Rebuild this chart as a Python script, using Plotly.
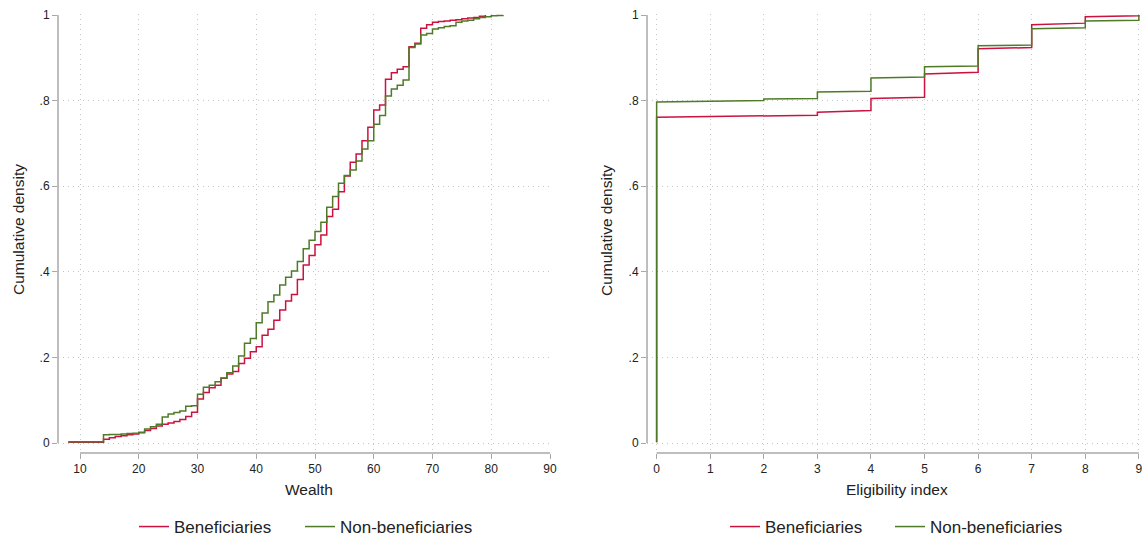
import plotly.graph_objects as go

# ---------------- data ----------------
wealth_benef = [8] + list(range(14, 80))
cdf_benef = [0.002,
             0.009, 0.012, 0.015, 0.017, 0.019, 0.021, 0.024,          # 14-20
             0.029, 0.034, 0.040, 0.044, 0.047, 0.050, 0.055, 0.062, 0.072,  # 21-29
             0.103, 0.118, 0.129, 0.135, 0.151, 0.161, 0.167, 0.186, 0.198, 0.213,  # 30-39
             0.225, 0.252, 0.266, 0.287, 0.311, 0.332, 0.347, 0.382, 0.416, 0.438,  # 40-49
             0.463, 0.486, 0.529, 0.546, 0.587, 0.624, 0.656, 0.675, 0.706, 0.738,  # 50-59
             0.778, 0.790, 0.850, 0.865, 0.873, 0.879, 0.926, 0.934, 0.969, 0.977,  # 60-69
             0.983, 0.985, 0.986, 0.988, 0.989, 0.991, 0.993, 0.994, 0.997, 1.000]  # 70-79

wealth_non = [8] + list(range(14, 83))
cdf_non = [0.003,
           0.019, 0.020, 0.020, 0.021, 0.022, 0.023, 0.025,          # 14-20
           0.033, 0.038, 0.044, 0.061, 0.068, 0.071, 0.075, 0.086, 0.087,  # 21-29
           0.114, 0.130, 0.135, 0.143, 0.152, 0.164, 0.180, 0.203, 0.233, 0.244,  # 30-39
           0.281, 0.304, 0.330, 0.346, 0.369, 0.387, 0.402, 0.424, 0.454, 0.474,  # 40-49
           0.494, 0.516, 0.551, 0.576, 0.607, 0.625, 0.638, 0.659, 0.687, 0.706,  # 50-59
           0.745, 0.765, 0.811, 0.827, 0.836, 0.848, 0.924, 0.932, 0.953, 0.957,  # 60-69
           0.967, 0.970, 0.973, 0.975, 0.983, 0.986, 0.988, 0.991, 0.994, 0.996,  # 70-79
           0.998, 0.999, 1.000]                                       # 80-82

elig_x_benef = [0, 0, 3, 3, 4, 4, 5, 5, 6, 6, 7, 7, 8, 8, 9, 9]
elig_benef = [0.002, 0.761, 0.766, 0.773, 0.777, 0.805, 0.808, 0.862,
              0.866, 0.921, 0.924, 0.977, 0.981, 0.996, 0.998, 1.000]
elig_x_non = [0, 0, 2, 2, 3, 3, 4, 4, 5, 5, 6, 6, 7, 7, 8, 8, 9, 9]
elig_non = [0.002, 0.797, 0.800, 0.804, 0.805, 0.820, 0.822, 0.853, 0.855,
            0.879, 0.881, 0.928, 0.930, 0.968, 0.970, 0.986, 0.988, 1.000]

y_tickvals = [0, 0.2, 0.4, 0.6, 0.8, 1]
y_ticktext = ["0", ".2", ".4", ".6", ".8", "1"]
wealth_ticks = [10, 20, 30, 40, 50, 60, 70, 80, 90]
elig_ticks = [0, 1, 2, 3, 4, 5, 6, 7, 8, 9]

series_names = ["Beneficiaries", "Non-beneficiaries"]

# ---------------- style ----------------
W, H = 1146, 541
RED = "#CC1240"
GREEN = "#4F7B28"
AXC = "#A8A8A8"
GRIDC = "#C4C4C4"
FONT = "Liberation Sans, Arial, sans-serif"

def px_x(p):
    return p / W

def px_y(p):
    return 1 - p / H

fig = go.Figure()

fig.add_trace(go.Scatter(x=wealth_benef, y=cdf_benef, mode="lines", line_shape="hv",
                         line=dict(color=RED, width=1.5), name=series_names[0],
                         xaxis="x", yaxis="y", legend="legend"))
fig.add_trace(go.Scatter(x=wealth_non, y=cdf_non, mode="lines", line_shape="hv",
                         line=dict(color=GREEN, width=1.5), name=series_names[1],
                         xaxis="x", yaxis="y", legend="legend2"))
fig.add_trace(go.Scatter(x=elig_x_benef, y=elig_benef, mode="lines",
                         line=dict(color=RED, width=1.5), name=series_names[0],
                         xaxis="x2", yaxis="y2", legend="legend3"))
fig.add_trace(go.Scatter(x=elig_x_non, y=elig_non, mode="lines",
                         line=dict(color=GREEN, width=1.5), name=series_names[1],
                         xaxis="x2", yaxis="y2", legend="legend4"))

ydom = [px_y(453), px_y(14)]
yrange = [-10 / 428, 1 + 1 / 428]

common = dict(showline=False, zeroline=False, showgrid=True, gridcolor=GRIDC,
              griddash="1px,4px", gridwidth=1, ticks="outside", ticklen=5,
              tickcolor=AXC, tickwidth=1.3,
              tickfont=dict(family=FONT, size=12, color="#222"))

def leg(xpx):
    return dict(orientation="h", x=px_x(xpx), y=px_y(527), xanchor="left", yanchor="middle",
                font=dict(family=FONT, size=17, color="#222"),
                bgcolor="rgba(0,0,0,0)", borderwidth=0)

fig.update_layout(
    width=W, height=H,
    margin=dict(l=0, r=0, t=0, b=0, autoexpand=False),
    paper_bgcolor="white", plot_bgcolor="white",
    font=dict(family=FONT, color="#222"),
    xaxis=dict(domain=[px_x(58), px_x(550)], range=[6.255, 90],
               tickvals=wealth_ticks, anchor="y", **common),
    yaxis=dict(domain=ydom, range=yrange, tickvals=y_tickvals, ticktext=y_ticktext,
               anchor="x", **common),
    xaxis2=dict(domain=[px_x(647), px_x(1141)], range=[-0.18, 9.04],
                tickvals=elig_ticks, anchor="y2", **common),
    yaxis2=dict(domain=ydom, range=yrange, tickvals=y_tickvals, ticktext=y_ticktext,
                anchor="x2", **common),
    legend=leg(134),
    legend2=leg(300),
    legend3=leg(725),
    legend4=leg(890),
    showlegend=True,
)

# axis lines (Stata style: spanning tick range only)
shapes = [
    dict(type="line", xref="paper", yref="y", x0=px_x(58), x1=px_x(58), y0=0, y1=1,
         line=dict(color=AXC, width=1.5)),
    dict(type="line", xref="x", yref="paper", x0=10, x1=90, y0=px_y(453), y1=px_y(453),
         line=dict(color=AXC, width=1.5)),
    dict(type="line", xref="paper", yref="y2", x0=px_x(647), x1=px_x(647), y0=0, y1=1,
         line=dict(color=AXC, width=1.5)),
    dict(type="line", xref="x2", yref="paper", x0=0, x1=9, y0=px_y(453), y1=px_y(453),
         line=dict(color=AXC, width=1.5)),
]
fig.update_layout(shapes=shapes)

annots = [
    dict(text="Wealth", x=px_x(309), y=px_y(489)),
    dict(text="Eligibility index", x=px_x(897), y=px_y(489)),
    dict(text="Cumulative density", x=px_x(18), y=px_y(230), textangle=-90),
    dict(text="Cumulative density", x=px_x(606), y=px_y(230), textangle=-90),
]
for a in annots:
    fig.add_annotation(xref="paper", yref="paper", showarrow=False,
                       xanchor="center", yanchor="middle",
                       font=dict(family=FONT, size=15.5, color="#222"), **a)

fig.write_html("out.html",
               config={"displayModeBar": False},
               post_script="document.body.style.margin='0';document.body.style.overflow='hidden';")
